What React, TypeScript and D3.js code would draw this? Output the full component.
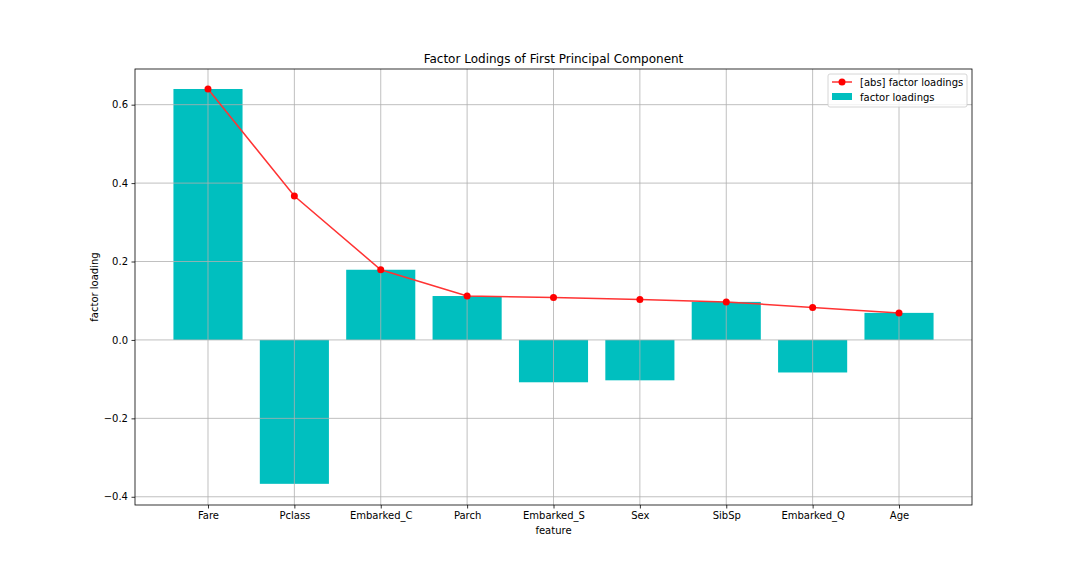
import React, { useEffect, useRef } from 'react';
import * as d3 from 'd3';

const features = ['Fare', 'Pclass', 'Embarked_C', 'Parch', 'Embarked_S', 'Sex', 'SibSp', 'Embarked_Q', 'Age'];
const loadings = [0.640, -0.367, 0.179, 0.112, -0.108, -0.103, 0.097, -0.083, 0.069];
const yTicks = [-0.4, -0.2, 0.0, 0.2, 0.4, 0.6];

const App: React.FC = () => {
  const ref = useRef<SVGSVGElement | null>(null);

  useEffect(() => {
    const width = 1080;
    const height = 576;
    const m = { left: 135, top: 69, right: 972, bottom: 505 };
    const font = 'DejaVu Sans, sans-serif';

    const svg = d3.select(ref.current)
      .attr('width', width)
      .attr('height', height)
      .style('display', 'block')
      .style('position', 'absolute')
      .style('left', '0px')
      .style('top', '0px')
      .style('background', '#ffffff');
    svg.selectAll('*').remove();

    const x = d3.scaleLinear().domain([-0.845, features.length - 1 + 0.845]).range([m.left, m.right]);
    const y = d3.scaleLinear().domain([-0.421, 0.691]).range([m.bottom, m.top]);
    const barW = (x(1) - x(0)) * 0.8;

    // bars
    svg.append('g').selectAll('rect')
      .data(loadings)
      .join('rect')
        .attr('x', (d, i) => x(i) - barW / 2)
        .attr('y', d => y(Math.max(0, d)))
        .attr('width', barW)
        .attr('height', d => Math.abs(y(d) - y(0)))
        .attr('fill', '#00bfbf');

    // grid on top of bars
    const grid = svg.append('g').attr('stroke', '#b0b0b0').attr('stroke-width', 0.8);
    grid.selectAll('.gx').data(features).join('line')
      .attr('x1', (d, i) => x(i)).attr('x2', (d, i) => x(i))
      .attr('y1', m.top).attr('y2', m.bottom);
    grid.selectAll('.gy').data(yTicks).join('line')
      .attr('x1', m.left).attr('x2', m.right)
      .attr('y1', d => y(d)).attr('y2', d => y(d));

    // abs line
    const absVals = loadings.map(Math.abs);
    const line = d3.line<number>().x((d, i) => x(i)).y(d => y(d));
    svg.append('path')
      .datum(absVals)
      .attr('d', line)
      .attr('fill', 'none')
      .attr('stroke', '#ff3333')
      .attr('stroke-width', 1.5);
    svg.append('g').selectAll('circle')
      .data(absVals)
      .join('circle')
        .attr('cx', (d, i) => x(i))
        .attr('cy', d => y(d))
        .attr('r', 3.5)
        .attr('fill', '#ff0000');

    // frame
    svg.append('rect')
      .attr('x', m.left).attr('y', m.top)
      .attr('width', m.right - m.left).attr('height', m.bottom - m.top)
      .attr('fill', 'none').attr('stroke', '#000').attr('stroke-width', 0.8);

    // axes
    const xAxis = svg.append('g')
      .attr('transform', `translate(0,${m.bottom})`)
      .call(d3.axisBottom(x).tickValues(d3.range(features.length)).tickFormat((d) => features[d as number]).tickSize(3.5).tickPadding(3.5));
    const yAxis = svg.append('g')
      .attr('transform', `translate(${m.left},0)`)
      .call(d3.axisLeft(y).tickValues(yTicks).tickFormat(d => (d as number) < 0 ? '\u2212' + Math.abs(d as number).toFixed(1) : (d as number).toFixed(1)).tickSize(3.5).tickPadding(3.5));
    [xAxis, yAxis].forEach(a => {
      a.select('.domain').remove();
      a.selectAll('text').attr('font-family', font).attr('font-size', 10).attr('fill', '#000');
      a.selectAll('line').attr('stroke', '#000').attr('stroke-width', 0.8);
    });

    // labels
    svg.append('text')
      .attr('x', (m.left + m.right) / 2).attr('y', 63)
      .attr('text-anchor', 'middle')
      .attr('font-family', font).attr('font-size', 12)
      .text('Factor Lodings of First Principal Component');
    svg.append('text')
      .attr('x', (m.left + m.right) / 2).attr('y', 534)
      .attr('text-anchor', 'middle')
      .attr('font-family', font).attr('font-size', 10)
      .text('feature');
    svg.append('text')
      .attr('transform', `translate(98,${(m.top + m.bottom) / 2}) rotate(-90)`)
      .attr('text-anchor', 'middle')
      .attr('font-family', font).attr('font-size', 10)
      .text('factor loading');

    // legend
    const lg = svg.append('g').attr('transform', 'translate(828,74)');
    lg.append('rect')
      .attr('width', 139).attr('height', 33).attr('rx', 2)
      .attr('fill', '#fff').attr('fill-opacity', 0.8)
      .attr('stroke', '#cccccc').attr('stroke-width', 0.8);
    lg.append('line').attr('x1', 4).attr('x2', 24).attr('y1', 8).attr('y2', 8)
      .attr('stroke', '#ff3333').attr('stroke-width', 1.5);
    lg.append('circle').attr('cx', 14).attr('cy', 8).attr('r', 3.5).attr('fill', '#ff0000');
    lg.append('rect').attr('x', 4).attr('y', 19).attr('width', 20).attr('height', 7).attr('fill', '#00bfbf');
    lg.append('text').attr('x', 32).attr('y', 11.5)
      .attr('font-family', font).attr('font-size', 10).text('[abs] factor loadings');
    lg.append('text').attr('x', 32).attr('y', 26.5)
      .attr('font-family', font).attr('font-size', 10).text('factor loadings');
  }, []);

  return <svg ref={ref}></svg>;
};

export default App;
